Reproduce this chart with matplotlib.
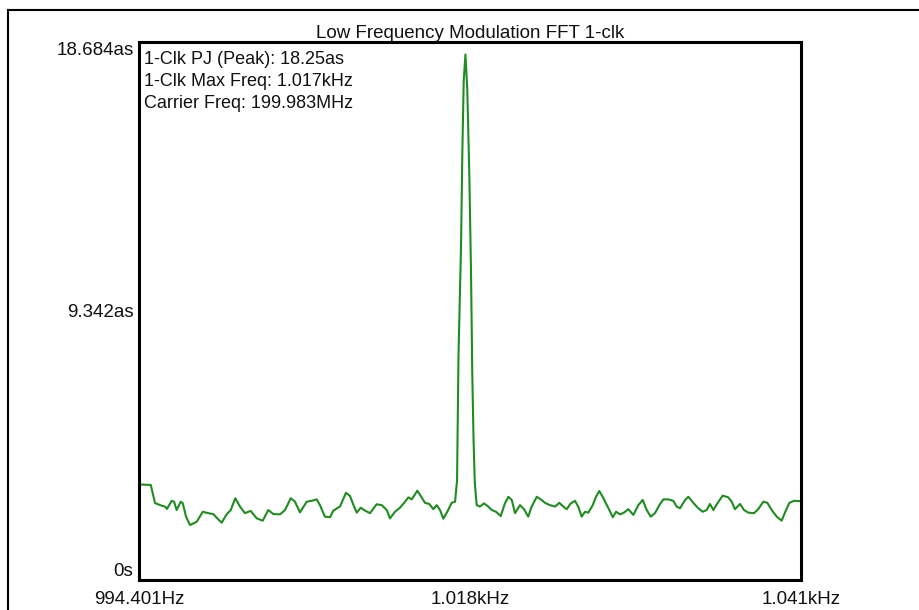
import matplotlib
matplotlib.use("Agg")
import matplotlib.pyplot as plt
from matplotlib.lines import Line2D

# ── Data ──────────────────────────────────────────────────────────────
freq_hz = [
    994.40, 995.23, 995.53, 996.00, 996.23, 996.37, 996.70, 996.87, 997.05, 997.34,
    997.48, 997.71, 997.99, 998.46, 998.89, 999.28, 999.63, 999.91, 1000.22, 1000.57,
    1000.86, 1001.18, 1001.51, 1001.86, 1002.26, 1002.69, 1003.11, 1003.50, 1003.86, 1004.33,
    1004.68, 1005.08, 1005.38, 1005.73, 1006.21, 1006.56, 1006.91, 1007.14, 1007.49, 1007.85,
    1008.08, 1008.55, 1008.97, 1009.25, 1009.54, 1009.73, 1010.01, 1010.31, 1010.66, 1011.13,
    1011.49, 1011.84, 1012.07, 1012.42, 1012.77, 1013.13, 1013.36, 1013.60, 1013.99, 1014.30,
    1014.53, 1014.84, 1015.12, 1015.36, 1015.59, 1015.82, 1016.10, 1016.41, 1016.65,
    1016.79, 1016.89, 1017.07, 1017.16, 1017.26, 1017.38, 1017.51, 1017.65, 1017.77, 1017.86,
    1017.95, 1018.04, 1018.17,
    1018.40, 1018.69, 1018.99, 1019.23, 1019.53, 1019.86, 1020.16, 1020.40, 1020.64, 1020.87,
    1021.22, 1021.50, 1021.80, 1022.04, 1022.40, 1022.68, 1022.98, 1023.33, 1023.68, 1023.99,
    1024.27, 1024.51, 1024.79, 1025.09, 1025.32, 1025.56, 1025.80, 1026.03, 1026.34, 1026.57,
    1026.80, 1027.04, 1027.27, 1027.51, 1027.75, 1027.98, 1028.26, 1028.54, 1028.84, 1029.20,
    1029.55, 1029.86, 1030.14, 1030.42, 1030.72, 1031.03, 1031.31, 1031.66, 1032.01, 1032.25,
    1032.48, 1032.84, 1033.07, 1033.42, 1033.77, 1034.08, 1034.36, 1034.59, 1034.83, 1035.11,
    1035.49, 1035.88, 1036.12, 1036.35, 1036.71, 1036.99, 1037.29, 1037.69, 1037.99, 1038.35,
    1038.63, 1038.94, 1039.29, 1039.64, 1039.87, 1040.18, 1040.51, 1040.93,
]
jitter_as = [
    3.32, 3.30, 2.67, 2.58, 2.55, 2.47, 2.75, 2.72, 2.43, 2.72,
    2.67, 2.20, 1.91, 2.02, 2.37, 2.32, 2.29, 2.14, 1.99, 2.28,
    2.43, 2.84, 2.55, 2.32, 2.40, 2.14, 2.06, 2.43, 2.29, 2.28,
    2.43, 2.84, 2.72, 2.35, 2.72, 2.75, 2.80, 2.60, 2.20, 2.18,
    2.41, 2.55, 3.03, 2.92, 2.55, 2.34, 2.51, 2.41, 2.32, 2.63,
    2.60, 2.43, 2.14, 2.37, 2.51, 2.72, 2.87, 2.80, 3.10, 2.87,
    2.68, 2.64, 2.46, 2.60, 2.43, 2.13, 2.37, 2.68, 2.72,
    3.47, 7.81, 11.63, 14.83, 17.36, 18.25, 17.02, 14.13, 10.77, 7.19,
    4.86, 3.37, 2.60,
    2.55, 2.66, 2.55, 2.43, 2.37, 2.22, 2.66, 2.89, 2.78, 2.32,
    2.60, 2.46, 2.20, 2.55, 2.89, 2.80, 2.68, 2.60, 2.55, 2.68,
    2.55, 2.46, 2.66, 2.75, 2.55, 2.20, 2.37, 2.34, 2.60, 2.89,
    3.09, 2.89, 2.66, 2.43, 2.18, 2.37, 2.28, 2.34, 2.46, 2.26,
    2.60, 2.78, 2.43, 2.20, 2.32, 2.60, 2.80, 2.80, 2.75, 2.55,
    2.49, 2.78, 2.89, 2.68, 2.49, 2.37, 2.43, 2.64, 2.43, 2.66,
    2.93, 2.87, 2.72, 2.46, 2.64, 2.43, 2.34, 2.32, 2.46, 2.72,
    2.68, 2.43, 2.20, 2.06, 2.34, 2.68, 2.75, 2.74,
]

x_min, x_max = 994.401, 1041.0
y_ticks = [0, 9.342, 18.684]
y_tick_labels = ["0s", "9.342as", "18.684as"]
x_ticks = [994.401, 1017.7, 1041.0]
x_tick_labels = ["994.401Hz", "1.018kHz", "1.041kHz"]
info_lines = [
    "1-Clk PJ (Peak): 18.25as",
    "1-Clk Max Freq: 1.017kHz",
    "Carrier Freq: 199.983MHz",
]
title = "Low Frequency Modulation FFT 1-clk"

# ── Plot ──────────────────────────────────────────────────────────────
plt.rcParams["font.family"] = ["Liberation Sans", "DejaVu Sans"]
W, H = 920, 610
fig = plt.figure(figsize=(W / 100, H / 100), dpi=100)
fig.patch.set_facecolor("white")

ax = fig.add_axes([139 / W, 1 - 580 / H, 662 / W, 538 / H])
ax.plot(freq_hz, jitter_as, color="#1f8c1f", linewidth=1.5)

ax.set_xlim(x_min, x_max)
ax.set_ylim(0, 18.684)

ax.set_yticks(y_ticks)
ax.set_yticklabels(y_tick_labels)
ax.set_xticks(x_ticks)
ax.set_xticklabels(x_tick_labels)
ax.tick_params(axis="both", length=0, labelsize=13.5, colors="#111111")
ax.tick_params(axis="y", pad=4)
ax.tick_params(axis="x", pad=8)
ylabs = ax.get_yticklabels()
ylabs[0].set_va("bottom")
ylabs[2].set_va("top")

for s in ax.spines.values():
    s.set_linewidth(2.2)
    s.set_color("black")

ax.set_title(title, fontsize=13.5, pad=1, color="#111111")

ax.text(5 / 662, 1 - 9 / 538, "\n".join(info_lines), transform=ax.transAxes,
        ha="left", va="top", fontsize=13, linespacing=1.4, color="#111111")

# outer window frame
fig.add_artist(Line2D([8 / W, 8 / W], [1 - 10 / H, 0], transform=fig.transFigure,
                      color="black", linewidth=1.5))
fig.add_artist(Line2D([8 / W, 1], [1 - 10 / H, 1 - 10 / H], transform=fig.transFigure,
                      color="black", linewidth=1.5))

fig.savefig("out.png", dpi=100)
